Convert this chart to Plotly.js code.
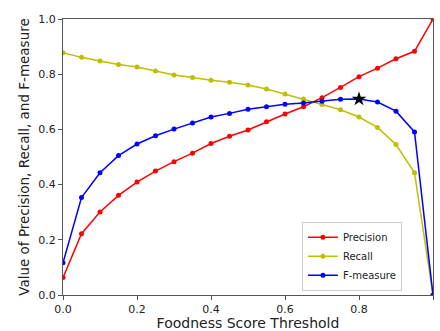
<!DOCTYPE html>
<html><head><meta charset="utf-8">
<script src="https://cdn.plot.ly/plotly-3.0.1.min.js"></script>
<style>html,body{margin:0;padding:0;background:#fff}#c{width:440px;height:331px}</style>
</head><body><div id="c"></div>
<script>
const thresholds = [0,0.05,0.1,0.15,0.2,0.25,0.3,0.35,0.4,0.45,0.5,0.55,0.6,0.65,0.7,0.75,0.8,0.85,0.9,0.95,1.0];
const precision = [0.063,0.222,0.301,0.361,0.409,0.449,0.483,0.514,0.549,0.575,0.598,0.628,0.656,0.682,0.715,0.752,0.791,0.822,0.856,0.883,1.0];
const recall = [0.878,0.861,0.848,0.835,0.826,0.812,0.797,0.788,0.778,0.771,0.761,0.746,0.728,0.710,0.690,0.671,0.645,0.607,0.545,0.443,0.0];
const fmeasure = [0.117,0.353,0.443,0.505,0.547,0.577,0.601,0.623,0.645,0.658,0.673,0.682,0.691,0.696,0.702,0.709,0.710,0.699,0.666,0.591,0.0];
const bestX = [0.8];
const bestY = [0.710];

const font = 'DejaVu Sans, sans-serif';
const mk = (name, y, color) => ({
  x: thresholds, y: y, name: name, type: 'scatter', mode: 'lines+markers',
  line: {color: color, width: 1.5}, marker: {color: color, size: 5}
});
const data = [
  mk('Precision', precision, '#ff0000'),
  mk('Recall', recall, '#bfbf00'),
  mk('F-measure', fmeasure, '#0000ff'),
  {x: bestX, y: bestY, type: 'scatter', mode: 'markers', showlegend: false,
   marker: {symbol: 'star', color: '#000', size: 11}, cliponaxis: false}
];
const axis = {
  range: [0, 1], dtick: 0.2, tickformat: '.1f', showgrid: false, zeroline: false,
  showline: true, mirror: true, linecolor: '#555', linewidth: 1,
  ticks: 'outside', ticklen: 4, tickcolor: '#555',
  tickfont: {family: font, size: 11, color: '#222'}
};
const layout = {
  width: 440, height: 331,
  margin: {l: 63, r: 7, t: 19, b: 36},
  paper_bgcolor: '#fff', plot_bgcolor: '#fff',
  font: {family: font, color: '#222'},
  xaxis: Object.assign({}, axis, {title: {text: 'Foodness Score Threshold', font: {family: font, size: 14, color: '#222'}, standoff: 3}}),
  yaxis: Object.assign({}, axis, {title: {text: 'Value of Precision, Recall, and F-measure', font: {family: font, size: 13.5, color: '#222'}, standoff: 5}}),
  legend: {x: 0.916, y: 0.015, xanchor: 'right', yanchor: 'bottom',
    bgcolor: 'rgba(255,255,255,0.8)', bordercolor: '#ccc', borderwidth: 1,
    itemwidth: 30, font: {family: font, size: 10, color: '#222'}, tracegroupgap: 0},
  showlegend: true
};
Plotly.newPlot('c', data, layout, {staticPlot: true, displayModeBar: false});
</script>
</body></html>
